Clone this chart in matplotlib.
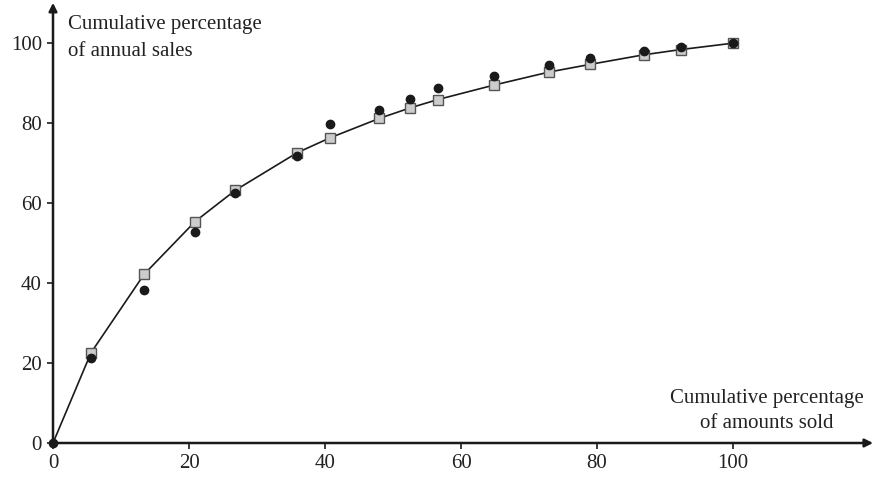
import matplotlib
matplotlib.use("Agg")
import matplotlib.pyplot as plt

plt.rcParams['font.family'] = ['Liberation Serif', 'DejaVu Serif']

# fitted curve values (squares) and observed values (circles)
amounts = [0, 5.6, 13.4, 20.9, 26.8, 35.9, 40.7, 48.0, 52.5, 56.6, 64.8, 73.0, 79.0, 86.9, 92.3, 100]
fitted = [0, 22.6, 42.2, 55.4, 63.2, 72.6, 76.3, 81.2, 83.8, 85.9, 89.5, 92.8, 94.7, 97.1, 98.4, 100]
observed = [0, 21.3, 38.2, 52.7, 62.6, 71.9, 79.9, 83.2, 86.1, 88.9, 91.8, 94.5, 96.2, 98.0, 99.1, 100]
ticks = [0, 20, 40, 60, 80, 100]

fig = plt.figure(figsize=(8.74, 4.79), dpi=100)
ax = fig.add_axes([53/874, 36/479, 816/874, 437/479])
xmax, ymax = 120, 109.3
ax.set_xlim(0, xmax)
ax.set_ylim(0, ymax)

for s in ax.spines.values():
    s.set_visible(False)

# axes with arrows
ax.annotate("", xy=(xmax + 0.6, 0), xytext=(0, 0),
            arrowprops=dict(arrowstyle="-|>", color="#1a1a1a", lw=1.8,
                            mutation_scale=12, shrinkA=0, shrinkB=0),
            annotation_clip=False)
ax.annotate("", xy=(0, ymax + 0.8), xytext=(0, 0),
            arrowprops=dict(arrowstyle="-|>", color="#1a1a1a", lw=1.8,
                            mutation_scale=12, shrinkA=0, shrinkB=0),
            annotation_clip=False)

ax.plot(amounts, fitted, "-", color="#1a1a1a", lw=1.2, zorder=3)
ax.plot(amounts[1:], fitted[1:], "s", ms=7.5, mfc="#cccccc", mec="#555555",
        mew=1.0, zorder=4, clip_on=False)
ax.plot(amounts, observed, "o", ms=6, color="#1a1a1a", zorder=5, clip_on=False)

ax.set_xticks(ticks)
ax.set_yticks(ticks)
ax.tick_params(direction="out", length=4, width=1.2, color="#1a1a1a",
               labelsize=15, pad=4, labelcolor="#222222")

ax.text(2.2, 107, "Cumulative percentage\nof annual sales", ha="left", va="top",
        fontsize=15, color="#222222", linespacing=1.55)
ax.text(105, 2.6, "Cumulative percentage\nof amounts sold", ha="center", va="bottom",
        fontsize=15, color="#222222", linespacing=1.4)

fig.savefig("out.png", dpi=100)
